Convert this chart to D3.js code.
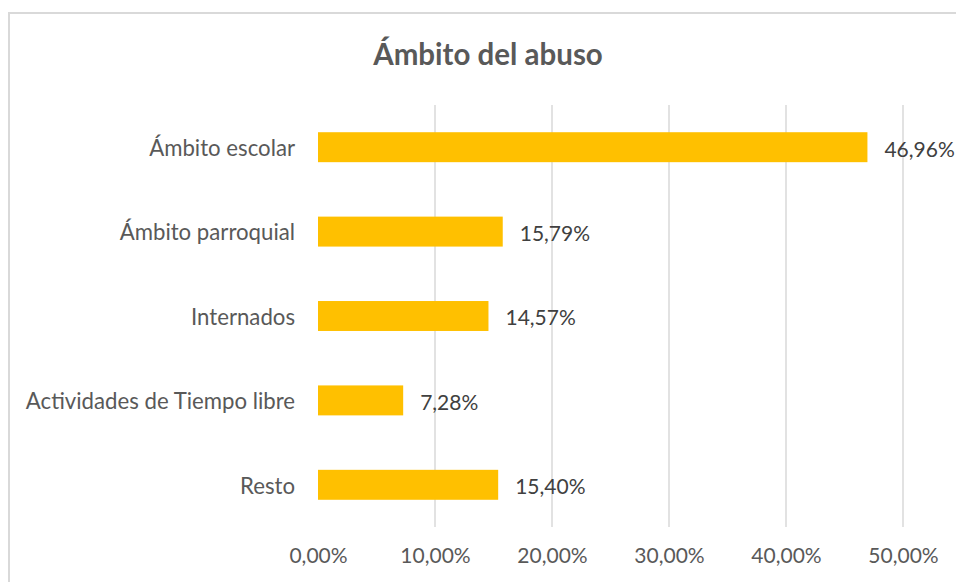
<!DOCTYPE html>
<html>
<head>
<meta charset="utf-8">
<script src="https://cdn.jsdelivr.net/npm/d3@7"></script>
<style>
  body { margin: 0; background: #fff; }
  svg { display: block; font-family: Lato, "Open Sans", sans-serif; }
</style>
</head>
<body>
<svg id="chart"></svg>
<script>
const categories = ["Ámbito escolar", "Ámbito parroquial", "Internados", "Actividades de Tiempo libre", "Resto"];
const values = [0.4696, 0.1579, 0.1457, 0.0728, 0.1540];
const ticks = [0, 0.1, 0.2, 0.3, 0.4, 0.5];

const W = 956, H = 582;
const svg = d3.select("#chart")
    .attr("width", W)
    .attr("height", H);

const fmt = v => (v * 100).toFixed(2).replace(".", ",") + "%";

// marco del gráfico
svg.append("rect")
    .attr("x", 9)
    .attr("y", 13)
    .attr("width", W)
    .attr("height", H)
    .attr("fill", "white")
    .attr("stroke", "#d9d9d9")
    .attr("stroke-width", 2);

// título
svg.append("text")
    .attr("x", 488)
    .attr("y", 65)
    .attr("text-anchor", "middle")
    .style("font-size", "29.5px")
    .style("font-weight", "bold")
    .style("fill", "#595959")
    .text("Ámbito del abuso");

const x = d3.scaleLinear()
    .domain([0, 0.5])
    .range([318, 903]);

const y = d3.scaleBand()
    .domain(categories)
    .range([105, 527])
    .paddingInner(0.645)
    .paddingOuter(0.3225);

// líneas de división
svg.append("g")
    .selectAll("line")
    .data(ticks.filter(t => t > 0))
    .join("line")
    .attr("x1", d => x(d))
    .attr("x2", d => x(d))
    .attr("y1", 105)
    .attr("y2", 527)
    .attr("stroke", "#d9d9d9")
    .attr("stroke-width", 1.5);

// eje x
const xAxis = svg.append("g")
    .attr("transform", "translate(0,545)")
    .call(d3.axisBottom(x).tickValues(ticks).tickFormat(fmt).tickSize(0));
xAxis.select(".domain").remove();
xAxis.selectAll("text")
    .attr("dy", "0.71em")
    .style("font-size", "21px")
    .style("font-family", "Lato, 'Open Sans', sans-serif")
    .style("fill", "#595959");

// eje y
const yAxis = svg.append("g")
    .attr("transform", "translate(295,0)")
    .call(d3.axisLeft(y).tickSize(0).tickPadding(0));
yAxis.select(".domain").remove();
yAxis.selectAll("text")
    .attr("dy", "0.4em")
    .style("font-size", "22.2px")
    .style("font-family", "Lato, 'Open Sans', sans-serif")
    .style("fill", "#595959");

// barras
svg.append("g")
    .selectAll("rect")
    .data(values)
    .join("rect")
    .attr("x", x(0))
    .attr("y", (d, i) => y(categories[i]))
    .attr("width", d => x(d) - x(0))
    .attr("height", y.bandwidth())
    .attr("fill", "#ffc000");

// etiquetas de datos
svg.append("g")
    .selectAll("text")
    .data(values)
    .join("text")
    .attr("x", d => x(d) + 17)
    .attr("y", (d, i) => y(categories[i]) + y.bandwidth() / 2)
    .attr("dy", "0.45em")
    .style("font-size", "21px")
    .style("fill", "#404040")
    .text(d => fmt(d));
</script>
</body>
</html>
